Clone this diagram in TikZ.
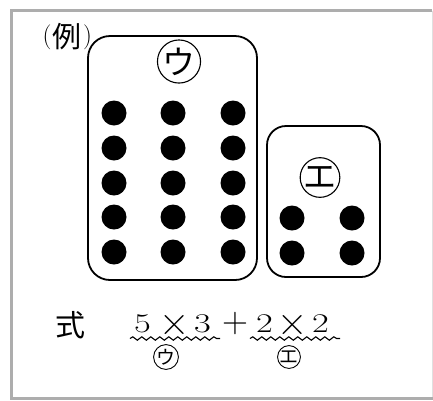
\documentclass[tikz,border=0pt]{standalone}
\usepackage{fontspec}
\newfontfamily\jpfont{Noto Sans CJK JP}
\usetikzlibrary{decorations.pathmorphing}

% wide digits, as in the printed sheet
\newcommand{\widedigit}[1]{\scalebox{1.35}[1]{#1}}

\begin{document}
\begin{tikzpicture}[x=1pt,y=-1pt,
  dot/.style={circle,fill=black,inner sep=0pt,minimum size=25pt},
  group/.style={draw,line width=1.8pt,rounded corners=22pt,inner sep=0pt},
  tag/.style={circle,draw,line width=1.1pt,inner sep=0pt,minimum size=35pt,
    font=\jpfont\fontsize{33}{33}\selectfont},
  smalltag/.style={circle,draw,line width=0.9pt,inner sep=0pt,minimum size=21pt,
    font=\jpfont\fontsize{19}{19}\selectfont},
  wave/.style={decorate,decoration={snake,segment length=9pt,amplitude=1.7pt},line width=1.1pt},
  num/.style={font=\fontsize{27}{27}\selectfont,inner sep=0pt,anchor=base},
  op/.style={font=\fontsize{#1}{#1}\selectfont,inner sep=0pt,anchor=center},
  paren/.style={font=\fontsize{25}{25}\selectfont,inner sep=0pt,anchor=center},
  jp/.style={font=\jpfont\fontsize{#1}{#1}\selectfont,inner sep=0pt}
]
\useasboundingbox (0,0) rectangle (433,400);
\fill[white] (0,0) rectangle (433,400);

% outer frame
\draw[line width=3pt,color=black!32] (432,10.5) -- (11.5,10.5) -- (11.5,398.5) -- (433,398.5);
\draw[line width=1pt,color=black!12] (432,10.5) -- (432,397);

% example label
\node[paren] (exL) at (47,37) {(};
\node[jp=29] (ex) at (66.5,37) {例};
\node[paren] (exR) at (87.5,37) {)};

% group ウ: 5 rows x 3 columns
\node[group,minimum width=169pt,minimum height=244pt] (boxU) at (172.5,158) {};
\node[tag] (tagU) at (179,61.5) {ウ};
\foreach \r/\y in {1/113,2/148,3/183,4/217,5/252}
  \foreach \c/\x in {1/114,2/173,3/233}
    \node[dot] (u\r\c) at (\x,\y) {};

% group エ: 2 rows x 2 columns
\node[group,rounded corners=19pt,minimum width=113pt,minimum height=151pt] (boxE) at (323.5,201.5) {};
\node[tag] (tagE) at (320,177.5) {エ};
\foreach \r/\y in {1/218,2/253}
  \foreach \c/\x in {1/292,2/352}
    \node[dot] (e\r\c) at (\x,\y) {};

% expression
\node[jp=30] (shiki) at (70,325) {式};
\node[num] (n1) at (142.5,332) {\widedigit{5}};
\node[op=42] (t1) at (175,325) {×};
\node[num] (n2) at (202.5,332) {\widedigit{3}};
\node[op=36] (pl) at (235,324) {+};
\node[num] (n3) at (264.5,332) {\widedigit{2}};
\node[op=42] (t2) at (292.5,325) {×};
\node[num] (n4) at (320.5,332) {\widedigit{2}};

\coordinate (wU1) at (130,338.5);
\coordinate (wU2) at (220,338.5);
\coordinate (wE1) at (250,338.5);
\coordinate (wE2) at (340,338.5);
\draw[wave] (wU1) -- (wU2);
\draw[wave] (wE1) -- (wE2);

\node[smalltag] (subU) at (166,357) {ウ};
\node[smalltag] (subE) at (289,357) {エ};
\end{tikzpicture}
\end{document}
